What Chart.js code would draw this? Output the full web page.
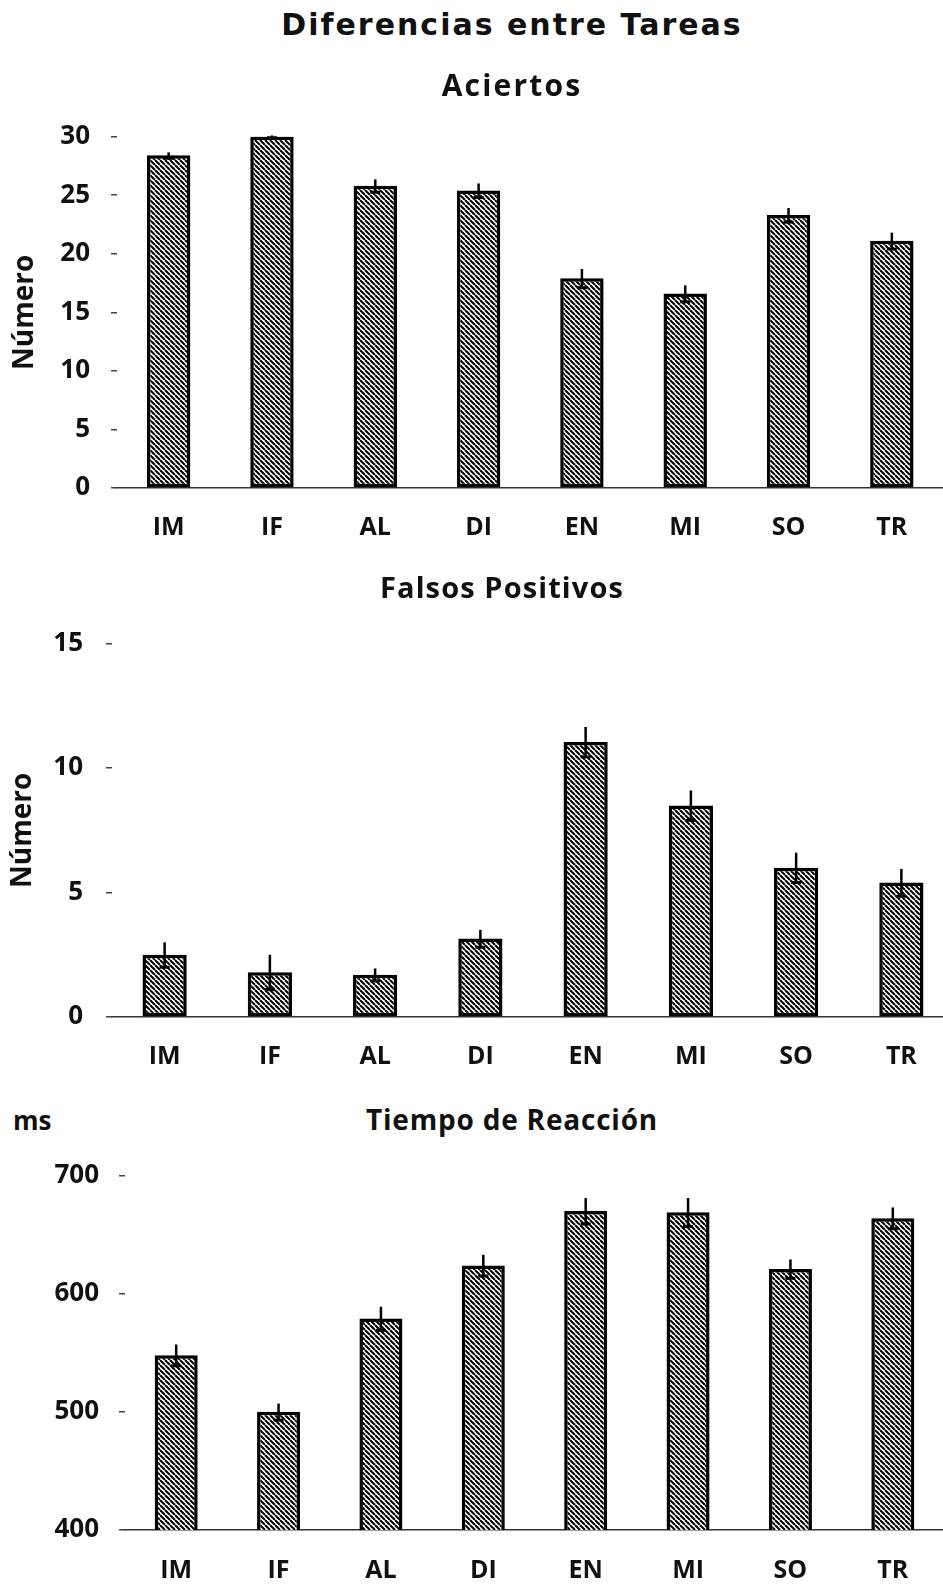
<!DOCTYPE html>
<html>
<head>
<meta charset="utf-8">
<script src="https://cdn.jsdelivr.net/npm/chart.js@4.4.1/dist/chart.umd.min.js"></script>
<style>
html, body { margin:0; padding:0; background:#fff; width:943px; height:1585px; overflow:hidden; }
body { position:relative; }
canvas { position:absolute; left:0; }
.t { position:absolute; font-family:'Open Sans', sans-serif; font-weight:700; color:#111; white-space:nowrap; line-height:1; z-index:2; }
.c { transform:translateX(-50%); }
</style>
</head>
<body>
<div class="t c" style="left:512px; top:10px; font-family:'DejaVu Sans', sans-serif; font-size:30px; letter-spacing:2px;">Diferencias entre Tareas</div>
<div class="t c" style="left:512px; top:70px; font-size:30px; letter-spacing:2.2px;">Aciertos</div>
<div class="t c" style="left:502px; top:572px; font-size:29px; letter-spacing:1.1px;">Falsos Positivos</div>
<div class="t" style="left:13px; top:1107px; font-size:26px;">ms</div>
<div class="t c" style="left:512px; top:1105px; font-size:28px; letter-spacing:0.8px;">Tiempo de Reacción</div>

<canvas id="aciertosChart" width="980" height="460" style="top:100px"></canvas>
<canvas id="falsosChart" width="980" height="475" style="top:605px"></canvas>
<canvas id="tiempoChart" width="980" height="445" style="top:1140px"></canvas>

<script>
// tasks on the x axis, same for all three panels
const categories = ['IM', 'IF', 'AL', 'DI', 'EN', 'MI', 'SO', 'TR'];

// Aciertos (número)
const aciertos    = [28.4, 30.0, 25.8, 25.4, 17.9, 16.6, 23.3, 21.1];
const aciertosErr = [0.25, 0.1, 0.55, 0.6, 0.8, 0.7, 0.6, 0.7];
const aciertosTicks = { min: 0, max: 30, step: 5 };

// Falsos positivos (número)
const falsos    = [2.5, 1.8, 1.7, 3.15, 11.05, 8.5, 6.0, 5.4];
const falsosErr = [0.5, 0.7, 0.25, 0.35, 0.6, 0.6, 0.6, 0.55];
const falsosTicks = { min: 0, max: 15, step: 5 };

// Tiempo de reacción (ms)
const tiempo    = [548, 500, 579, 624, 670, 669, 621, 664];
const tiempoErr = [9, 7, 10, 9, 11, 12, 8, 9];
const tiempoTicks = { min: 400, max: 700, step: 100 };

const FONT = "'Open Sans', sans-serif";

// diagonal hatch like the printed bars
function hatchTile(){
  const s = 5;
  const c = document.createElement('canvas');
  c.width = c.height = s;
  const g = c.getContext('2d');
  g.fillStyle = '#fff';
  g.fillRect(0, 0, s, s);
  g.strokeStyle = '#000';
  g.lineWidth = 2;
  g.beginPath();
  [-s, 0, s].forEach(k => { g.moveTo(k, 0); g.lineTo(k + s, s); });
  g.stroke();
  return c;
}

// vertical error line with a small cap at the lower end
const errorBars = {
  id: 'errorBars',
  afterDatasetsDraw(chart){
    const ctx = chart.ctx;
    const y = chart.scales.y;
    chart.data.datasets.forEach((ds, di) => {
      chart.getDatasetMeta(di).data.forEach((bar, i) => {
        const v = ds.data[i], e = ds.errors[i];
        const top = y.getPixelForValue(v + e);
        const bot = y.getPixelForValue(v - e);
        ctx.save();
        ctx.strokeStyle = '#000';
        ctx.lineWidth = 2.5;
        ctx.beginPath();
        ctx.moveTo(bar.x, top);
        ctx.lineTo(bar.x, bot);
        ctx.stroke();
        ctx.lineWidth = 3;
        ctx.beginPath();
        ctx.moveTo(bar.x - 5, bot);
        ctx.lineTo(bar.x + 5, bot);
        ctx.stroke();
        ctx.restore();
      });
    });
  }
};

function makeChart(id, values, errs, ticks, cfg){
  const canvas = document.getElementById(id);
  const fill = canvas.getContext('2d').createPattern(hatchTile(), 'repeat');
  return new Chart(canvas, {
    type: 'bar',
    data: {
      labels: categories,
      datasets: [{
        data: values,
        errors: errs,
        backgroundColor: fill,
        borderColor: '#000',
        borderWidth: 3.5,
        borderSkipped: false,
        barPercentage: 0.42,
        categoryPercentage: 1
      }]
    },
    options: {
      responsive: false,
      animation: false,
      layout: { padding: { top: cfg.padTop, right: cfg.padRight, left: 0, bottom: 0 } },
      plugins: { legend: { display: false }, tooltip: { enabled: false } },
      scales: {
        x: {
          grid: { display: true, drawOnChartArea: false, drawTicks: false },
          border: { display: true, color: '#333', width: 1.5 },
          ticks: { color: '#111', padding: cfg.xPad, font: { family: FONT, weight: 'bold', size: 25 } },
          afterFit: s => { s.height = cfg.xHeight; }
        },
        y: {
          min: ticks.min,
          max: ticks.max,
          ticks: { stepSize: ticks.step, color: '#111', padding: cfg.yPad, font: { family: FONT, weight: 'bold', size: 26 } },
          grid: { drawOnChartArea: false, drawTicks: true, tickLength: 6, color: '#444', lineWidth: 1.5 },
          border: { display: false },
          title: {
            display: !!cfg.yTitle,
            text: cfg.yTitle || '',
            color: '#111',
            font: { family: FONT, weight: 'bold', size: 28 },
            padding: { top: cfg.titlePad || 0, bottom: 0 }
          },
          afterFit: s => { s.width = cfg.left; }
        }
      }
    },
    plugins: [errorBars]
  });
}

makeChart('aciertosChart', aciertos, aciertosErr, aciertosTicks,
  { padTop: 34, padRight: 36.5, left: 117, xHeight: 72, xPad: 25, yPad: 21, yTitle: 'Número', titlePad: 8 });
makeChart('falsosChart', falsos, falsosErr, falsosTicks,
  { padTop: 27, padRight: 26, left: 112, xHeight: 63, xPad: 25, yPad: 23, yTitle: 'Número', titlePad: 6 });
makeChart('tiempoChart', tiempo, tiempoErr, tiempoTicks,
  { padTop: 20, padRight: 36, left: 125, xHeight: 55, xPad: 26, yPad: 20 });
</script>
</body>
</html>
